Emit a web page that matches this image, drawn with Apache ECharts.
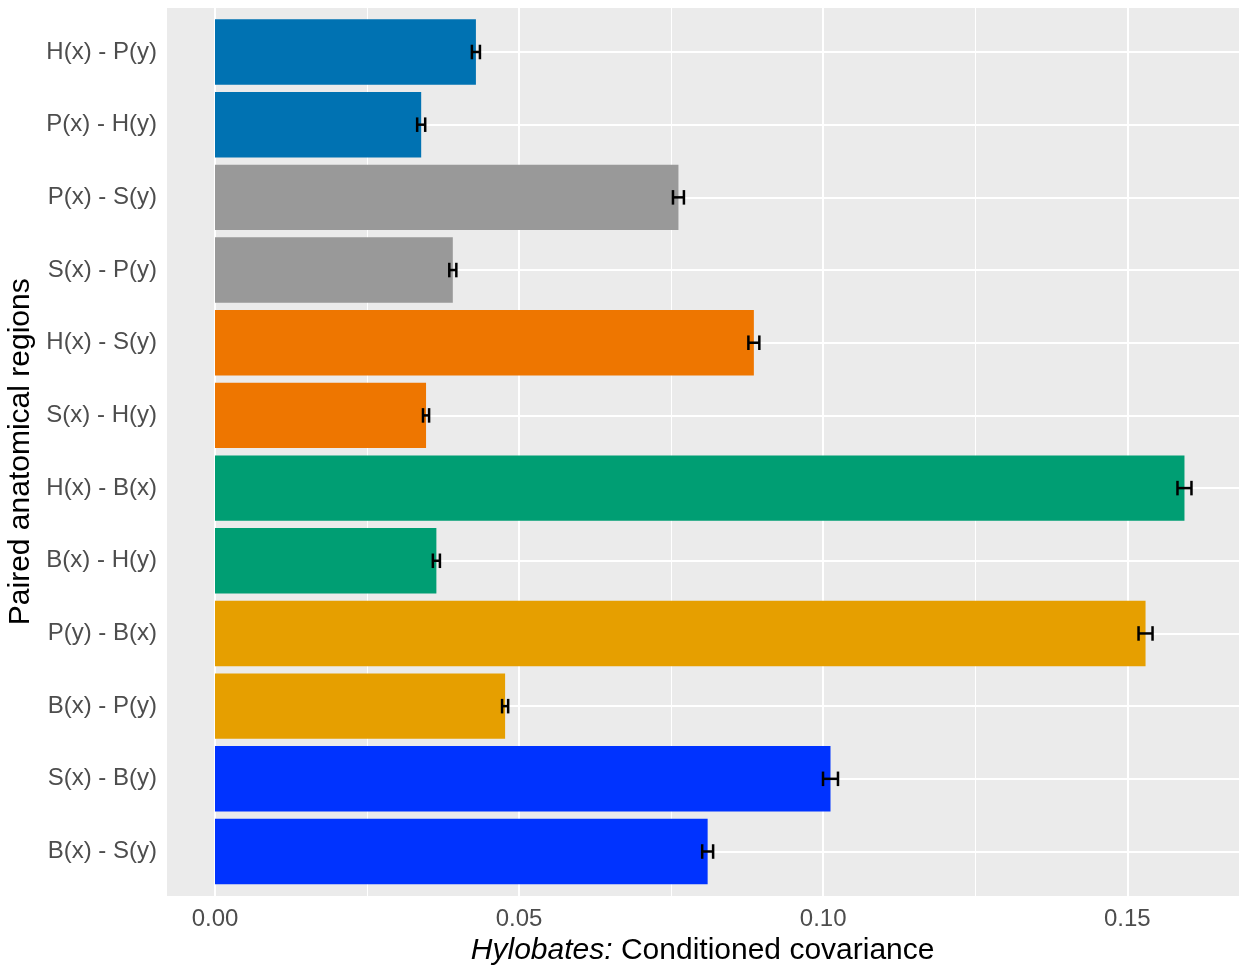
<!DOCTYPE html>
<html>
<head>
<meta charset="utf-8">
<script src="https://cdn.jsdelivr.net/npm/echarts@6/dist/echarts.min.js"></script>
<style>
  html,body{margin:0;padding:0;background:#fff;}
  #main{width:1239px;height:969px;}
</style>
</head>
<body>
<div id="main"></div>
<script>
// 类别（从上到下）
var pairs=['H(x) - P(y)','P(x) - H(y)','P(x) - S(y)','S(x) - P(y)','H(x) - S(y)','S(x) - H(y)',
           'H(x) - B(x)','B(x) - H(y)','P(y) - B(x)','B(x) - P(y)','S(x) - B(y)','B(x) - S(y)'];
// 条件协方差
var covValues=[0.0429,0.0339,0.0762,0.0391,0.0886,0.0347,0.1594,0.0364,0.1530,0.0477,0.1012,0.0810];
// 误差（半宽）
var covErr=[0.00066,0.00066,0.0009,0.00058,0.0009,0.0005,0.00115,0.00058,0.00115,0.0005,0.00123,0.0009];
// 颜色分组
var barColors=['#0072B2','#0072B2','#999999','#999999','#EE7600','#EE7600',
               '#009E73','#009E73','#E69F00','#E69F00','#0033FF','#0033FF'];
var xTicks=[0,0.05,0.10,0.15];

var barData=[];
var errData=[];
for(var i=0;i<pairs.length;i++){
    barData.push({value:covValues[i],itemStyle:{color:barColors[i]}});
    errData.push([covValues[i]-covErr[i],covValues[i]+covErr[i],i]);
}

var myChart=echarts.init(document.getElementById('main'));

var font='"Liberation Sans", Arial, sans-serif';

var option={
    animation:false,
    textStyle:{fontFamily:font},
    graphic:[{
        type:'rect',
        z:-10,
        shape:{x:167,y:8,width:1072,height:888},
        style:{fill:'#EBEBEB'}
    }],
    grid:[
        // 竖向网格线 + x轴
        {left:215,top:8,width:912.3,height:888,outerBoundsMode:'none',containLabel:false},
        // 柱子
        {left:215,top:15.65,width:912.3,height:872.2,outerBoundsMode:'none',containLabel:false}
    ],
    xAxis:[{
        gridIndex:0,
        type:'value',
        min:xTicks[0],
        max:xTicks[xTicks.length-1],
        interval:0.05,
        axisLine:{show:false},
        axisTick:{show:false},
        axisLabel:{
            color:'#4D4D4D',
            fontSize:24,
            margin:11,
            formatter:function(v){return v.toFixed(2);}
        },
        splitLine:{show:true,lineStyle:{color:'#FFFFFF',width:2}},
        minorTick:{show:false,splitNumber:2},
        minorSplitLine:{show:true,lineStyle:{color:'#FFFFFF',width:1}},
        name:'{i|Hylobates:} Conditioned covariance',
        nameLocation:'middle',
        nameGap:35,
        nameTextStyle:{
            color:'#000',
            fontSize:30,
            padding:[0,0,0,63],
            rich:{i:{fontStyle:'italic',fontSize:30,color:'#000'}}
        }
    },{
        gridIndex:1,
        type:'value',
        min:0,
        max:0.15,
        show:false
    }],
    yAxis:[{
        gridIndex:0,
        type:'value',
        show:false
    },{
        gridIndex:1,
        type:'category',
        data:pairs,
        inverse:true,
        offset:48,
        axisLine:{show:false},
        // 横向网格线（位于类别中心）
        axisTick:{show:true,inside:true,length:1072,alignWithLabel:true,
                  lineStyle:{color:'#FFFFFF',width:2}},
        splitLine:{show:false},
        axisLabel:{color:'#4D4D4D',fontSize:24,margin:10,padding:[4,0,0,0]},
        name:'Paired anatomical regions',
        nameLocation:'middle',
        nameRotate:90,
        nameGap:105,
        nameTextStyle:{color:'#000',fontSize:30}
    }],
    series:[{
        type:'bar',
        xAxisIndex:1,
        yAxisIndex:1,
        data:barData,
        barCategoryGap:'10%',
        clip:false
    },{
        type:'custom',
        xAxisIndex:1,
        yAxisIndex:1,
        z:5,
        clip:false,
        encode:{x:[0,1],y:2},
        data:errData,
        renderItem:function(params,api){
            var lo=api.coord([api.value(0),api.value(2)]);
            var hi=api.coord([api.value(1),api.value(2)]);
            var h=api.size([0,1])[1]*0.2/2;
            var st={stroke:'#000',lineWidth:2.5};
            return {type:'group',children:[
                {type:'line',shape:{x1:lo[0],y1:lo[1],x2:hi[0],y2:hi[1]},style:st},
                {type:'line',shape:{x1:lo[0],y1:lo[1]-h,x2:lo[0],y2:lo[1]+h},style:st},
                {type:'line',shape:{x1:hi[0],y1:hi[1]-h,x2:hi[0],y2:hi[1]+h},style:st}
            ]};
        }
    }]
};

myChart.setOption(option);
</script>
</body>
</html>
